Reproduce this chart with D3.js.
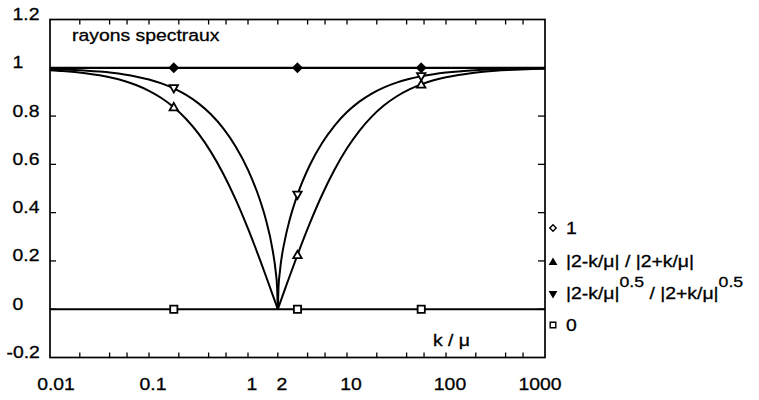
<!DOCTYPE html>
<html><head><meta charset="utf-8">
<script src="https://cdn.jsdelivr.net/npm/d3@7"></script>
<style>body{margin:0;background:#fff}svg{display:block}</style>
</head><body>
<script>
// ---- data ----
const xs = [0.01,0.013335,0.017783,0.023714,0.031623,0.04217,0.056234,0.074989,0.1,0.13335,0.17783,0.23714,0.31623,0.4217,0.56234,0.74989,1,1.3335,1.5,1.7783,1.9,1.97,2,2.03,2.1,2.3714,2.6,3.1623,4.217,5.6234,7.4989,10,13.335,17.783,23.714,31.623,42.17,56.234,74.989,100,133.35,177.83,237.14,316.23,421.7,562.34,749.89,1000];
const ratio = [0.99005,0.98675,0.98237,0.97656,0.96887,0.95870,0.94530,0.92772,0.90476,0.87499,0.83669,0.78800,0.72695,0.65173,0.56107,0.45460,0.33333,0.19994,0.14286,0.05868,0.02564,0.00756,0,0.00744,0.02439,0.08496,0.13043,0.22515,0.35660,0.47530,0.57890,0.66667,0.73916,0.79781,0.84444,0.88103,0.90944,0.93131,0.94804,0.96078,0.97045,0.97776,0.98327,0.98743,0.99056,0.99291,0.99468,0.99601];
const ratioSqrt = [0.99501,0.99335,0.99114,0.98821,0.98431,0.97913,0.97227,0.96318,0.95119,0.93541,0.91471,0.88769,0.85262,0.80730,0.74905,0.67424,0.57735,0.44715,0.37796,0.24224,0.16013,0.08693,0,0.08628,0.15617,0.29148,0.36116,0.47450,0.59716,0.68942,0.76086,0.81650,0.85975,0.89320,0.91894,0.93863,0.95365,0.96504,0.97367,0.98019,0.98511,0.98881,0.99160,0.99369,0.99527,0.99645,0.99733,0.99800];
const lineX = [0.01, 1000];
const oneVals = [1, 1];
const zeroVals = [0, 0];
const markerX = [0.178, 3.16, 56.2];
const markOne = [1, 1, 1];
const markRatio = [0.837, 0.225, 0.931];
const markSqrt = [0.915, 0.474, 0.965];
const markZero = [0, 0, 0];
const xTickLabels = ["0.01","0.1","1","2","10","100","1000"];
const xTickVals = [0.01,0.1,1,2,10,100,1000];
const yTickVals = [-0.2,0,0.2,0.4,0.6,0.8,1,1.2];
const minorMult = [1,2,4,6];
const title = "rayons spectraux";
const xLabel = "k / \u03bc";

// ---- layout ----
const W = 759, H = 400;
const L = 50, R = 545, T = 19.5, B = 357.5;
const FS = 17, SX = 1.14, FONT = "'Liberation Sans', Arial, Helvetica, sans-serif";

const svg = d3.select("body").append("svg").attr("width", W).attr("height", H)
  .style("font-family", FONT);
const x = d3.scaleLog().domain([0.01, 1000]).range([L, R]);
const y = d3.scaleLinear().domain([-0.2, 1.2]).range([B, T]);

function txt(px, py, s, anchor, size) {
  return svg.append("text")
    .attr("transform", `translate(${px},${py}) scale(${SX},1)`)
    .attr("text-anchor", anchor || "start")
    .attr("font-size", size || FS)
    .attr("fill", "#000").attr("stroke", "#000").attr("stroke-width", 0.3)
    .text(s);
}

// frame
svg.append("rect").attr("x", L).attr("y", T).attr("width", R - L).attr("height", B - T)
  .attr("fill", "none").attr("stroke", "#000").attr("stroke-width", 1.7);

// x ticks (inward, top & bottom)
const xt = [];
for (let e = -2; e <= 2; e++) minorMult.forEach(m => { const v = m * Math.pow(10, e); if (v > 0.01 && v < 1000) xt.push(v); });
svg.append("g").selectAll("line").data(xt).join("line")
  .attr("x1", d => x(d)).attr("x2", d => x(d)).attr("y1", B).attr("y2", B - 5)
  .attr("stroke", "#000").attr("stroke-width", 1.3);
svg.append("g").selectAll("line").data(xt).join("line")
  .attr("x1", d => x(d)).attr("x2", d => x(d)).attr("y1", T).attr("y2", T + 5)
  .attr("stroke", "#000").attr("stroke-width", 1.3);
// y ticks (inward, left & right)
const yt = yTickVals.slice(1, -1);
svg.append("g").selectAll("line").data(yt).join("line")
  .attr("x1", L).attr("x2", L + 6).attr("y1", d => y(d)).attr("y2", d => y(d))
  .attr("stroke", "#000").attr("stroke-width", 1.3);
svg.append("g").selectAll("line").data(yt).join("line")
  .attr("x1", R).attr("x2", R - 7).attr("y1", d => y(d)).attr("y2", d => y(d))
  .attr("stroke", "#000").attr("stroke-width", 1.3);

// y labels (left aligned)
yTickVals.forEach(v => {
  txt(v < 0 ? 6.5 : 12.5, y(v) + 0.5, String(v), "start");
});
// x labels
xTickVals.forEach((v, i) => {
  const dx = i === xTickVals.length - 1 ? -5 : (i === 0 ? 6 : 4);
  txt(x(v) + dx, 390, xTickLabels[i], "middle");
});

// lines
const line = d3.line().x(d => x(d[0])).y(d => y(d[1]));
const curve = d3.line().x(d => x(d[0])).y(d => y(d[1])).curve(d3.curveMonotoneX);
const g = svg.append("g").attr("fill", "none").attr("stroke", "#000").attr("stroke-width", 2);
g.append("path").attr("d", line(lineX.map((v, i) => [v, oneVals[i]]))).attr("stroke-width", 2.3);
g.append("path").attr("d", line(lineX.map((v, i) => [v, zeroVals[i]]))).attr("stroke-width", 2.1);
const split = xs.indexOf(2);
[ratio, ratioSqrt].forEach(vals => {
  const pts = xs.map((v, i) => [v, vals[i]]);
  g.append("path").attr("d", curve(pts.slice(0, split + 1)));
  g.append("path").attr("d", curve(pts.slice(split)));
});

// marker shapes
function shape(kind, r) {
  if (kind === "diamond") return `M0,${-r}L${r},0L0,${r}L${-r},0Z`;
  if (kind === "up") return `M0,${-r}L${r},${r * 0.75}L${-r},${r * 0.75}Z`;
  if (kind === "down") return `M0,${r}L${r},${-r * 0.75}L${-r},${-r * 0.75}Z`;
  return `M${-r},${-r}H${r}V${r}H${-r}Z`;
}
const markerSets = [
  { vals: markOne, kind: "diamond", fill: "#000" },
  { vals: markRatio, kind: "up", fill: "#fff" },
  { vals: markSqrt, kind: "down", fill: "#fff" },
  { vals: markZero, kind: "square", fill: "#fff" }
];
markerSets.forEach(ms => {
  svg.append("g").selectAll("path").data(markerX).join("path")
    .attr("transform", (d, i) => `translate(${x(d)},${y(ms.vals[i])})`)
    .attr("d", shape(ms.kind, ms.kind === "square" ? 3.6 : 4.2))
    .attr("fill", ms.fill).attr("stroke", "#000").attr("stroke-width", 1.8);
});

// title and axis label
txt(72, 41, title, "start");
txt(433, 346, xLabel, "start");

// legend
const LX = 553, TX = 566;
const leg = [
  { kind: "diamond", fill: "#fff", y: 228 },
  { kind: "up", fill: "#000", y: 262 },
  { kind: "down", fill: "#000", y: 294 },
  { kind: "square", fill: "#fff", y: 325 }
];
leg.forEach(l => {
  svg.append("path").attr("transform", `translate(${LX},${l.y})`)
    .attr("d", shape(l.kind, l.kind === "square" ? 2.8 : 3.2))
    .attr("fill", l.fill).attr("stroke", "#000").attr("stroke-width", 1.4);
});
txt(TX, 234, "1", "start");
txt(TX, 267, "|2-k/\u03bc| / |2+k/\u03bc|", "start");
const t3 = txt(TX, 299, "", "start");
t3.append("tspan").text("|2-k/\u03bc|");
t3.append("tspan").attr("dy", -12).attr("font-size", 15.5).text("0.5");
t3.append("tspan").attr("dy", 12).text(" / |2+k/\u03bc|");
t3.append("tspan").attr("dy", -12).attr("font-size", 15.5).text("0.5");
txt(TX, 331, "0", "start");
</script>
</body></html>
